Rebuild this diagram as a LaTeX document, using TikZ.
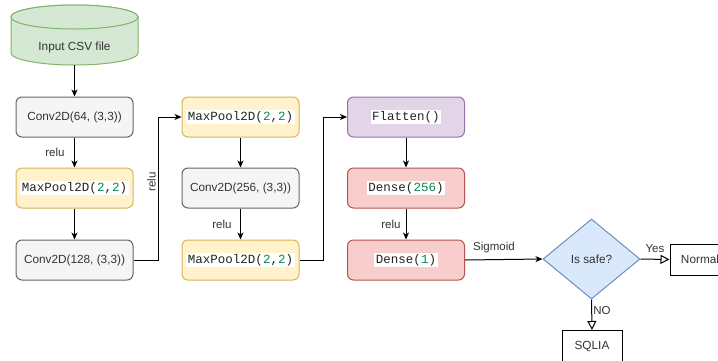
\documentclass[tikz,border=0pt]{standalone}
\usepackage{fontspec}
\setmainfont{Liberation Sans}
\newfontfamily\codefont{Liberation Mono}
\usetikzlibrary{shapes.geometric,arrows.meta}
\definecolor{grayfill}{HTML}{F5F5F5}
\definecolor{graydraw}{HTML}{666666}
\definecolor{txt}{HTML}{333333}
\definecolor{yelfill}{HTML}{FFF2CC}
\definecolor{yeldraw}{HTML}{D6B656}
\definecolor{purfill}{HTML}{E1D5E7}
\definecolor{purdraw}{HTML}{9673A6}
\definecolor{redfill}{HTML}{F8CECC}
\definecolor{reddraw}{HTML}{B85450}
\definecolor{grnfill}{HTML}{D5E8D4}
\definecolor{grndraw}{HTML}{82B366}
\definecolor{bluefill}{HTML}{DAE8FC}
\definecolor{bluedraw}{HTML}{6C8EBF}
\definecolor{codegreen}{HTML}{098658}
\definecolor{codetxt}{HTML}{222222}
\newcommand\codebox[1]{{\setlength{\fboxsep}{1.5pt}\colorbox{white}{\color{codetxt}\codefont\fontsize{12.5pt}{15pt}\selectfont #1}}}
\newcommand\numg[1]{\textcolor{codegreen}{#1}}
\begin{document}
\begin{tikzpicture}[x=1pt,y=-1pt,
  font=\fontsize{11.8pt}{14pt}\selectfont,
  box/.style={rectangle,rounded corners=6pt,minimum width=117pt,minimum height=40pt,inner sep=0pt,line width=1pt,text=txt},
  graybox/.style={box,draw=graydraw,fill=grayfill},
  yelbox/.style={box,draw=yeldraw,fill=yelfill},
  purbox/.style={box,draw=purdraw,fill=purfill},
  redbox/.style={box,draw=reddraw,fill=redfill},
  plainbox/.style={rectangle,draw=black,fill=white,line width=1pt,inner sep=0pt,minimum width=60pt,minimum height=31pt,text=txt},
  arr/.style={line width=1pt,-{Stealth[length=7pt,width=6pt,inset=2pt]}},
  openarr/.style={line width=1pt,-{Triangle[open,length=9pt,width=9pt,fill=white]}},
  lbl/.style={text=txt,inner sep=1pt,font=\fontsize{11.5pt}{13pt}\selectfont}]
\useasboundingbox (0,0) rectangle (718,360);
% cylinder
\draw[line width=1pt,draw=grndraw,fill=grnfill]
  (11,17) -- (11,53) arc[start angle=180,end angle=360,x radius=63.5pt,y radius=12pt]
  -- (138,17) arc[start angle=0,end angle=180,x radius=63.5pt,y radius=12pt] -- cycle;
\draw[line width=1pt,draw=grndraw,fill=grnfill] (74.5,17) ellipse[x radius=63.5pt,y radius=12pt];
\node[inner sep=0pt,minimum width=127pt,minimum height=60pt] (csv) at (74.5,35) {};
\node[text=txt] (csvtext) at (74.5,47) {Input CSV file};
% column 1
\node[graybox] (c1) at (74.5,117) {Conv2D(64, (3,3))};
\node[yelbox] (p1) at (74.5,188) {\codebox{MaxPool2D(\numg{2},\numg{2})}};
\node[graybox] (c2) at (74.5,260) {Conv2D(128, (3,3))};
% column 2
\node[yelbox] (p2) at (240.5,117) {\codebox{MaxPool2D(\numg{2},\numg{2})}};
\node[graybox] (c3) at (240.5,188) {Conv2D(256, (3,3))};
\node[yelbox] (p3) at (240.5,260) {\codebox{MaxPool2D(\numg{2},\numg{2})}};
% column 3
\node[purbox] (fl) at (406,117) {\codebox{Flatten()}};
\node[redbox] (d1) at (406,188) {\codebox{Dense(\numg{256})}};
\node[redbox] (d2) at (406,260) {\codebox{Dense(\numg{1})}};
% decision
\node[diamond,draw=bluedraw,fill=bluefill,line width=1pt,aspect=1.2125,minimum width=97pt,minimum height=80pt,inner sep=0pt,text=txt] (dec) at (591.5,259) {Is safe?};
\node[plainbox] (nor) at (700,259.5) {Normal};
\node[plainbox] (sq) at (592,346) {SQLIA};
% connectors
\draw[arr] (csv.south) -- (c1.north);
\draw[arr] (c1.south) -- (p1.north);
\draw[arr] (p1.south) -- (c2.north);
\draw[arr] (c2.east) -- ++(25,0) |- (p2.west);
\draw[arr] (p2.south) -- (c3.north);
\draw[arr] (c3.south) -- (p3.north);
\draw[arr] (p3.east) -- ++(24,0) |- (fl.west);
\draw[arr] (fl.south) -- (d1.north);
\draw[arr] (d1.south) -- (d2.north);
\draw[arr] (d2.east) -- (dec.west);
\draw[openarr] (dec.east) -- (nor.west);
\draw[openarr] (dec.south) -- (sq.north);
% labels
\node[lbl] (l1) at (55,152) {relu};
\node[lbl,rotate=90] (l2) at (151.5,182) {relu};
\node[lbl] (l3) at (222,224) {relu};
\node[lbl] (l4) at (391,224) {relu};
\node[lbl] (l5) at (494,248) {Sigmoid};
\node[lbl] (l6) at (655,249) {Yes};
\node[lbl] (l7) at (602,311) {NO};
\end{tikzpicture}
\end{document}
